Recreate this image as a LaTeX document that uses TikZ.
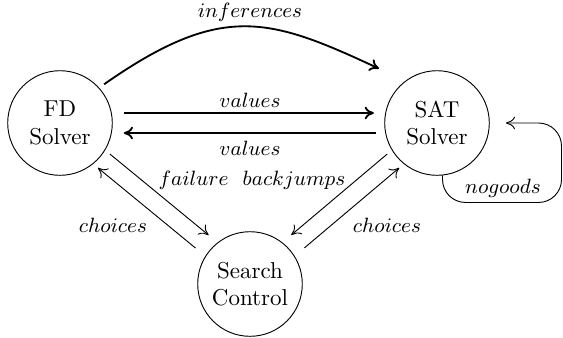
\documentclass[tikz,border=0pt]{standalone}
\usepackage{amsmath}
\usetikzlibrary{arrows,arrows.meta,calc,positioning}
\begin{document}
\begin{tikzpicture}[x=0.435pt,y=-0.435pt,>={Computer Modern Rightarrow[length=4pt,width=5.5pt]}]
	\tikzstyle{solver}=[draw,circle,align=center,inner sep=1pt,minimum size=45.5pt]
	\tikzstyle{lbl}=[font=\small]
	\tikzstyle{flow}=[->,line width=0.4pt]
	\tikzstyle{bigflow}=[->,line width=0.8pt]
	\useasboundingbox (0,0) rectangle (563,337);
	\node [solver] (fd) at (60,123) {FD\\Solver};
	\node [solver] (sat) at (437,123) {SAT\\Solver};
	\node [solver] (search) at (250,284) {Search\\Control};
	\draw [bigflow,shorten <=2.6pt,shorten >=12.6pt] (fd.42) to[out=35,in=155,looseness=1.25] (sat.127);
	\draw [bigflow,shorten <=4.8pt,shorten >=4.5pt] ([yshift=4.35pt]fd.east) -- ([yshift=4.35pt]sat.west);
	\draw [bigflow,shorten <=3.5pt,shorten >=4.8pt] ([yshift=-4.35pt]sat.west) -- ([yshift=-4.35pt]fd.east);
	\draw [flow,shorten <=2.6pt,shorten >=5pt] (fd.-31) -- (search.128);
	\draw [flow,shorten <=5.5pt,shorten >=2.6pt] (search.148) -- (fd.-51);
	\draw [flow,shorten <=2.6pt,shorten >=5pt] (sat.211) -- (search.52);
	\draw [flow,shorten <=5.5pt,shorten >=2.6pt] (search.32) -- (sat.231);
	% self loop for nogoods
	\coordinate (loopend) at ([xshift=7pt]sat.east);
	\draw [flow,rounded corners=10pt] (sat.-84) |- ++(119,27) |- (loopend);
	\node [lbl] (inf) at (250,12) {$inferences$};
	\node [lbl] (val1) at (250,100) {$values$};
	\node [lbl] (val2) at (250,148) {$values$};
	\node [lbl] (fail) at (252,180) {$failure\ \ backjumps$};
	\node [lbl] (cho1) at (113,225) {$choices$};
	\node [lbl] (cho2) at (387,225) {$choices$};
	\node [lbl] (nog) at (503,188) {$nogoods$};
\end{tikzpicture}
\end{document}
